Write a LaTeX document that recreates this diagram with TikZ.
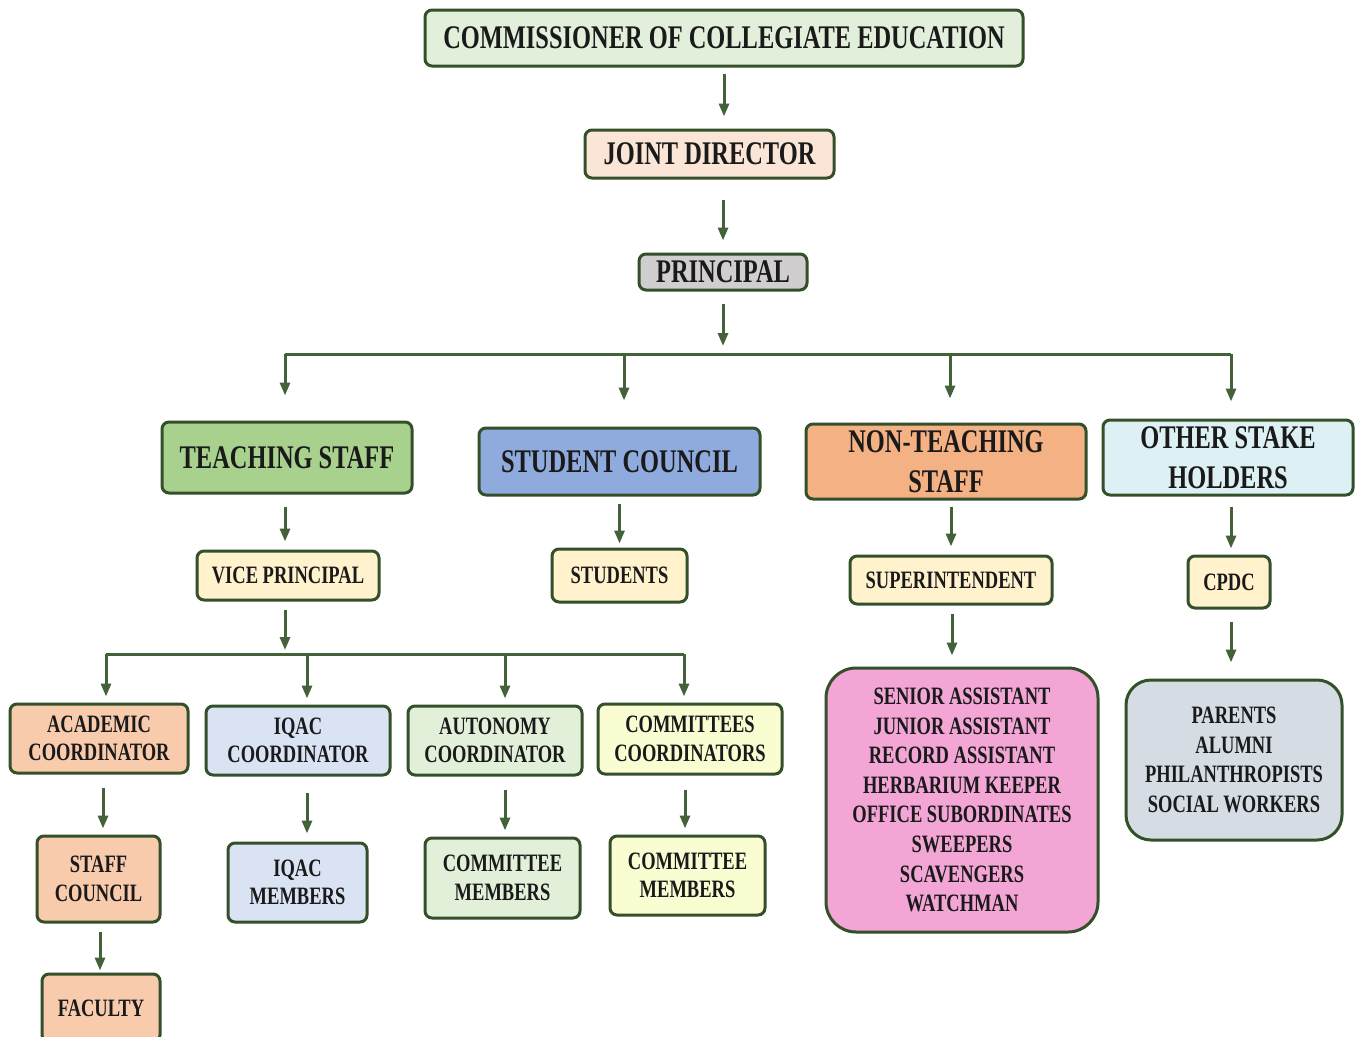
\documentclass[tikz,border=0pt]{standalone}
\usepackage{fontspec}
\newfontfamily\tnr{Liberation Serif}[FakeStretch=0.74]
\usetikzlibrary{arrows.meta}
\definecolor{bord}{HTML}{34502A}
\definecolor{arrc}{HTML}{44623A}
\definecolor{cceF}{HTML}{E2EFDA}
\definecolor{jdF}{HTML}{FBE5D6}
\definecolor{prF}{HTML}{D0CECE}
\definecolor{tsF}{HTML}{A9D18E}
\definecolor{scF}{HTML}{8FAADC}
\definecolor{ntF}{HTML}{F4B183}
\definecolor{osF}{HTML}{DDF0F4}
\definecolor{ylF}{HTML}{FFF2CC}
\definecolor{acF}{HTML}{F8CBAD}
\definecolor{iqF}{HTML}{DAE3F3}
\definecolor{auF}{HTML}{E2F0D9}
\definecolor{ccF}{HTML}{FAFCD2}
\definecolor{pkF}{HTML}{F3A5D6}
\definecolor{gyF}{HTML}{D5DCE4}
\definecolor{txt}{HTML}{1A1A1A}
\begin{document}
\begin{tikzpicture}[x=1pt,y=-1pt,
  box/.style={draw=bord, line width=3pt, rounded corners=7pt, align=center, inner sep=0pt, text=txt},
  fA/.style={font=\tnr\bfseries\fontsize{33}{40}\selectfont},
  fB/.style={font=\tnr\bfseries\fontsize{25}{29}\selectfont},
  fC/.style={font=\tnr\bfseries\fontsize{25}{28.5}\selectfont},
  fD/.style={font=\tnr\bfseries\fontsize{25}{29.6}\selectfont},
  arr/.style={draw=arrc, line width=3pt, -{Triangle[length=13pt,width=10pt]}},
  bus/.style={draw=arrc, line width=3pt}]
\clip (0,0) rectangle (1359,1036);
\fill[white] (0,0) rectangle (1359,1036);
% top levels
\node[box,fA,fill=cceF,minimum width=598,minimum height=56] (cce) at (724,38) {COMMISSIONER OF COLLEGIATE EDUCATION};
\node[box,fA,fill=jdF,minimum width=249,minimum height=48] (jd) at (709.5,154) {JOINT DIRECTOR};
\node[box,fA,fill=prF,minimum width=168,minimum height=36] (pr) at (723,272) {PRINCIPAL};
% level 2
\node[box,fA,fill=tsF,minimum width=250,minimum height=71] (ts) at (287,457.5) {TEACHING STAFF};
\node[box,fA,fill=scF,minimum width=281,minimum height=67] (sc) at (619.5,461.5) {STUDENT COUNCIL};
\node[box,fA,fill=ntF,minimum width=280,minimum height=75] (nt) at (946,461.5) {NON-TEACHING\\STAFF};
\node[box,fA,fill=osF,minimum width=250,minimum height=75] (os) at (1228,457.5) {OTHER STAKE\\HOLDERS};
% level 3
\node[box,fB,fill=ylF,minimum width=182,minimum height=49] (vp) at (288,575.5) {VICE PRINCIPAL};
\node[box,fB,fill=ylF,minimum width=135,minimum height=53] (st) at (619.5,575.5) {STUDENTS};
\node[box,fB,fill=ylF,minimum width=202,minimum height=48] (su) at (951,580) {SUPERINTENDENT};
\node[box,fB,fill=ylF,minimum width=82,minimum height=52] (cp) at (1229,582) {CPDC};
% level 4
\node[box,fC,fill=acF,minimum width=178,minimum height=69] (ac) at (99,738.5) {ACADEMIC\\COORDINATOR};
\node[box,fC,fill=iqF,minimum width=184,minimum height=69] (iq) at (298,740.5) {IQAC\\COORDINATOR};
\node[box,fC,fill=auF,minimum width=174,minimum height=69] (au) at (495,740.5) {AUTONOMY\\COORDINATOR};
\node[box,fC,fill=ccF,minimum width=184,minimum height=70] (cc) at (690,739) {COMMITTEES\\COORDINATORS};
% level 5
\node[box,fC,fill=acF,minimum width=123,minimum height=86] (stc) at (98.5,879) {STAFF\\COUNCIL};
\node[box,fC,fill=iqF,minimum width=139,minimum height=79] (iqm) at (297.5,882.5) {IQAC\\MEMBERS};
\node[box,fC,fill=auF,minimum width=155,minimum height=80] (cm1) at (502.5,878) {COMMITTEE\\MEMBERS};
\node[box,fC,fill=ccF,minimum width=155,minimum height=79] (cm2) at (687.5,875.5) {COMMITTEE\\MEMBERS};
\node[box,fC,fill=acF,minimum width=118,minimum height=68] (fa) at (101,1008) {FACULTY};
% big boxes
\node[box,fD,fill=pkF,rounded corners=30pt,minimum width=272,minimum height=264] (pk) at (962,800) {SENIOR ASSISTANT\\JUNIOR ASSISTANT\\RECORD ASSISTANT\\HERBARIUM KEEPER\\OFFICE SUBORDINATES\\SWEEPERS\\SCAVENGERS\\WATCHMAN};
\node[box,fD,fill=gyF,rounded corners=25pt,minimum width=216,minimum height=160] (gy) at (1234,760) {PARENTS\\ALUMNI\\PHILANTHROPISTS\\SOCIAL WORKERS};
% bus coordinates
\coordinate (bC) at (723,354);
\coordinate (bL) at (285,354);
\coordinate (bS) at (624,354);
\coordinate (bN) at (950,354);
\coordinate (bR) at (1231,354);
\coordinate (vC) at (285,654);
\coordinate (vA) at (106,654);
\coordinate (vI) at (307,654);
\coordinate (vU) at (505,654);
\coordinate (vM) at (684,654);
% connectors
\draw[arr,shorten <=6pt,shorten >=12pt] (cce.south) -- (cce.south |- jd.north);
\draw[arr,shorten <=20pt,shorten >=12pt] (pr.north |- jd.south) -- (pr.north);
\draw[arr,shorten <=12pt,shorten >=8pt] (pr.south) -- (bC);
\draw[bus] (bL) -- (bR);
\draw[arr,shorten >=25pt] (bL) -- (bL |- ts.north);
\draw[arr,shorten >=26pt] (bS) -- (bS |- sc.north);
\draw[arr,shorten >=24pt] (bN) -- (bN |- nt.north);
\draw[arr,shorten >=17pt] (bR) -- (bR |- os.north);
\draw[arr,shorten <=12pt,shorten >=8pt] (ts.south -| bL) -- (vp.north -| bL);
\draw[arr,shorten <=7pt,shorten >=4pt] (sc.south -| st) -- (st.north);
\draw[arr,shorten <=6pt,shorten >=8pt] (nt.south -| su) -- (su.north);
\draw[arr,shorten <=10pt,shorten >=6pt] (os.south -| bR) -- (cp.north -| bR);
\draw[arr,shorten <=8pt,shorten >=4pt] (vp.south -| vC) -- (vC);
\draw[bus] (vA) -- (vM);
\draw[arr,shorten >=6pt] (vA) -- (vA |- ac.north);
\draw[arr,shorten >=6pt] (vI) -- (vI |- iq.north);
\draw[arr,shorten >=6pt] (vU) -- (vU |- au.north);
\draw[arr,shorten >=6pt] (vM) -- (vM |- cc.north);
\draw[arr,shorten <=13pt,shorten >=6pt] (ac.south -| 103,0) -- (stc.north -| 103,0);
\draw[arr,shorten <=16pt,shorten >=8pt] (iq.south -| vI) -- (iqm.north -| vI);
\draw[arr,shorten <=13pt,shorten >=6pt] (au.south -| vU) -- (cm1.north -| vU);
\draw[arr,shorten <=14pt,shorten >=6pt] (cc.south -| 685,0) -- (cm2.north -| 685,0);
\draw[arr,shorten <=8pt,shorten >=2pt] (stc.south -| 100,0) -- (fa.north -| 100,0);
\draw[arr,shorten <=8pt,shorten >=11pt] (su.south -| 952,0) -- (pk.north -| 952,0);
\draw[arr,shorten <=12pt,shorten >=16pt] (cp.south -| bR) -- (gy.north -| bR);
\end{tikzpicture}
\end{document}
